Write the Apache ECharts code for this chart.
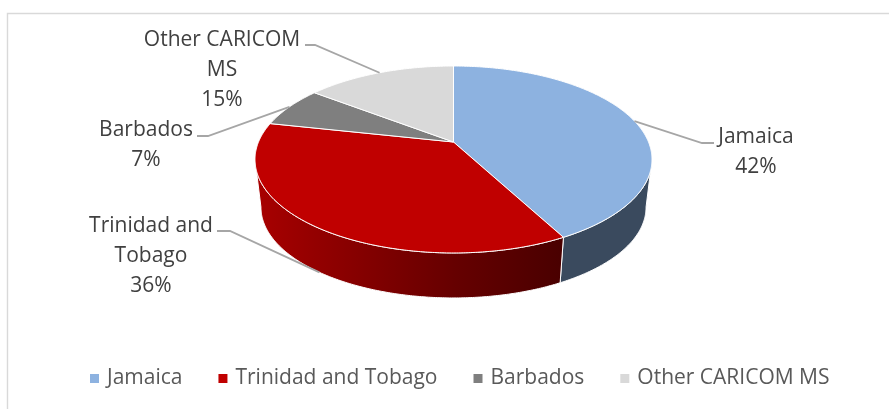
<!DOCTYPE html>
<html>
<head>
<meta charset="utf-8">
<style>
html, body { margin: 0; padding: 0; background: #fff; }
#chart { width: 889px; height: 409px; }
</style>
<script src="https://cdn.jsdelivr.net/npm/echarts@6/dist/echarts.min.js"></script>
</head>
<body>
<div id="chart"></div>
<script>
var categories = ['Jamaica', 'Trinidad and Tobago', 'Barbados', 'Other CARICOM MS'];
var shares = [42.2, 36.2, 7, 14.6];
var labelNames = ['Jamaica', 'Trinidad and\nTobago', 'Barbados', 'Other CARICOM\nMS'];

var topColors = ['#8DB2E0', '#C00000', '#7F7F7F', '#D9D9D9'];
var wallColors = ['#3A4A5E', '#7A0000', '#5A5A5A', '#999999'];

// label centre and the elbow of its leader line, in pixels
var labelPos = [[756, 152], [151, 256], [146, 145], [222, 70]];
var leaderElbow = [[[714, 143], [702, 143]], [[217, 231], [230, 231]], [[197, 136], [208, 136]], [[305, 45], [315, 45]]];

// the pie is tilted with perspective, so the rim is a projected circle
var cx = 453.5, apexY = 142, scaleX = 195, scaleY = 90.2, persp = 0.187;
var midY = 159.5, depth = 47.8, shrink = 0.97;
var total = shares.reduce(function (a, b) { return a + b; }, 0);

function topPoint(theta) {
    var X = Math.sin(theta), Y = -Math.cos(theta), w = 1 - persp * Y;
    return [cx + scaleX * X / w, apexY + scaleY * Y / w];
}
function bottomPoint(theta) {
    var p = topPoint(theta);
    return [cx + (p[0] - cx) * shrink, midY + (p[1] - midY) * shrink + depth];
}
function arc(fn, a0, a1) {
    var pts = [], n = Math.max(2, Math.ceil(Math.abs(a1 - a0) / 0.01));
    for (var i = 0; i <= n; i++) pts.push(fn(a0 + (a1 - a0) * i / n));
    return pts;
}

// front of the pie runs between the two horizontal extremes of the rim
var frontStart = Math.acos(-persp), frontEnd = 2 * Math.PI - frontStart;

var redWall = new echarts.graphic.LinearGradient(256, 0, 560, 0, [
    { offset: 0, color: '#A80000' },
    { offset: 0.2, color: '#930000' },
    { offset: 0.65, color: '#660000' },
    { offset: 1, color: '#4A0000' }
], true);

function renderSlice(index) {
    return function (params, api) {
        var before = shares.slice(0, index).reduce(function (a, b) { return a + b; }, 0);
        var a0 = before / total * 2 * Math.PI;
        var a1 = (before + api.value(0)) / total * 2 * Math.PI;
        var mid = (a0 + a1) / 2;
        var children = [];

        // side wall
        var w0 = Math.max(a0, frontStart), w1 = Math.min(a1, frontEnd);
        if (w1 > w0) {
            children.push({
                type: 'polygon',
                shape: { points: arc(topPoint, w0, w1).concat(arc(bottomPoint, w1, w0)) },
                style: { fill: index === 1 ? redWall : wallColors[index], stroke: '#fff', lineWidth: 1 }
            });
        }
        // top face
        children.push({
            type: 'polygon',
            shape: { points: [[cx, apexY]].concat(arc(topPoint, a0, a1)) },
            style: { fill: topColors[index], stroke: '#fff', lineWidth: 1 }
        });
        // leader line: the front slice points at the lower rim
        var end = index === 1 ? bottomPoint(mid) : topPoint(mid);
        children.push({
            type: 'polyline',
            shape: { points: leaderElbow[index].concat([end]) },
            style: { fill: null, stroke: '#A6A6A6', lineWidth: 1.8 }
        });
        children.push({
            type: 'text',
            x: labelPos[index][0],
            y: labelPos[index][1],
            style: {
                text: labelNames[index] + '\n' + Math.round(api.value(0) / total * 100) + '%',
                font: '21px "Open Sans"',
                fill: '#404040',
                align: 'center',
                verticalAlign: 'middle',
                lineHeight: 29.7
            }
        });
        return { type: 'group', children: children };
    };
}

var myChart = echarts.init(document.getElementById('chart'));
var option = {
    animation: false,
    graphic: [{
        type: 'rect',
        shape: { x: 7.5, y: 13.5, width: 900, height: 500 },
        style: { fill: '#fff', stroke: '#D9D9D9', lineWidth: 1.4 },
        z: -1
    }],
    legend: {
        left: 85,
        top: 363,
        itemWidth: 9,
        itemHeight: 9,
        itemGap: 36,
        icon: 'rect',
        data: categories,
        textStyle: { fontFamily: 'Open Sans', fontSize: 21, color: '#595959', padding: [0, 0, 0, 3] }
    },
    series: categories.map(function (name, i) {
        return {
            name: name,
            type: 'custom',
            coordinateSystem: 'none',
            color: topColors[i],
            z: 2 + i,
            renderItem: renderSlice(i),
            data: [[shares[i]]]
        };
    })
};
option && myChart.setOption(option);
</script>
</body>
</html>
